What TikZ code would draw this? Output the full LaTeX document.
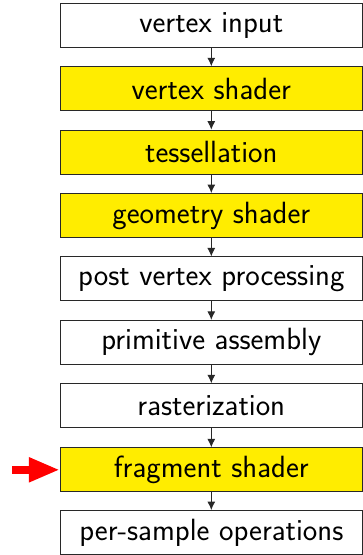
\documentclass[tikz,border=0pt]{standalone}
\usetikzlibrary{arrows.meta}
\definecolor{stageyellow}{RGB}{255,237,0}
\definecolor{edgegray}{RGB}{40,40,40}
\begin{document}
\begin{tikzpicture}[x=1pt,y=-1pt,
  stagebox/.style={draw=edgegray, line width=0.9pt, rectangle, minimum width=302pt, minimum height=44pt, inner sep=0pt, font=\sffamily\fontsize{30.7}{34}\selectfont},
  shaderbox/.style={stagebox, fill=stageyellow},
  plainbox/.style={stagebox, fill=white},
  flow/.style={draw=edgegray, line width=0.9pt, -{Latex[length=8.5pt,width=8pt]}}]
\useasboundingbox (0,0) rectangle (363,555);
\node[plainbox]  (vi) at (211.3,25.3) {vertex input};
\node[shaderbox] (vs) at (211.3,88.7) {vertex shader};
\node[shaderbox] (ts) at (211.3,152.1) {tessellation};
\node[shaderbox] (gs) at (211.3,215.5) {geometry shader};
\node[plainbox]  (pv) at (211.3,278.9) {post vertex processing};
\node[plainbox]  (pa) at (211.3,342.3) {primitive assembly};
\node[plainbox]  (ra) at (211.3,405.7) {rasterization};
\node[shaderbox] (fs) at (211.3,469.8) {fragment shader};
\node[plainbox]  (ps) at (211.3,532.5) {per-sample operations};
\foreach \a/\b in {vi/vs,vs/ts,ts/gs,gs/pv,pv/pa,pa/ra,ra/fs,fs/ps}
  \draw[flow] (\a.south) -- (\b.north);
\coordinate (redstart) at (12.3,469.8);
\draw[red, line width=7.7pt, -{Triangle[length=31pt,width=23pt]}] (redstart) -- (fs.west);
\end{tikzpicture}
\end{document}
